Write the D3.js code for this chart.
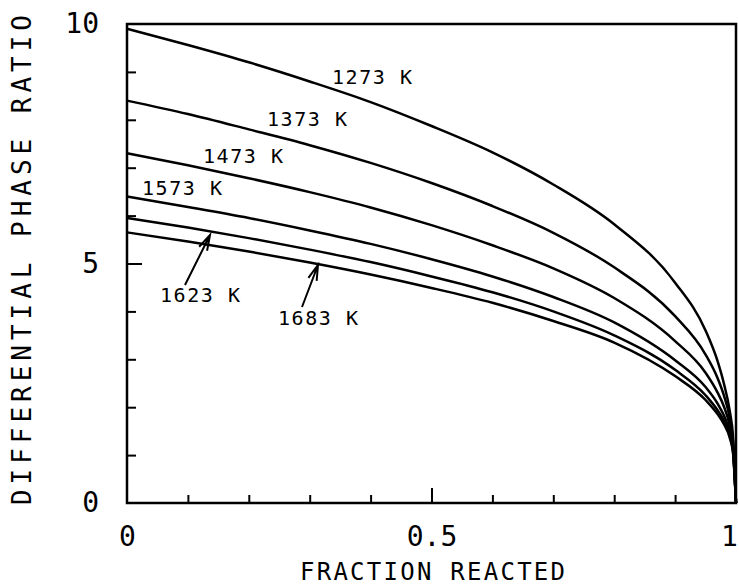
<!DOCTYPE html>
<html>
<head>
<meta charset="utf-8">
<script src="https://cdn.jsdelivr.net/npm/d3@7"></script>
<style>
  body { margin: 0; background: #fff; }
  svg text { font-family: "DejaVu Sans Mono", monospace; fill: #000; }
</style>
</head>
<body>
<div id="chart"></div>
<script>
// fraction reacted (x samples)
var fraction = [0, 0.1, 0.2, 0.3, 0.4, 0.5, 0.6, 0.7, 0.8, 0.9, 0.95, 0.97, 0.98, 0.99, 0.995, 1];
// curve for each temperature
var temps = ["1273 K", "1373 K", "1473 K", "1573 K", "1623 K", "1683 K"];
var r1273 = [9.9, 9.56, 9.2, 8.8, 8.37, 7.87, 7.32, 6.65, 5.82, 4.6, 3.6, 2.95, 2.5, 1.9, 1.4, 0];
var r1373 = [8.4, 8.12, 7.8, 7.47, 7.1, 6.68, 6.2, 5.64, 4.92, 3.9, 3.1, 2.6, 2.25, 1.75, 1.3, 0];
var r1473 = [7.3, 7.05, 6.78, 6.49, 6.17, 5.8, 5.38, 4.9, 4.28, 3.38, 2.72, 2.3, 2.02, 1.6, 1.22, 0];
var r1573 = [6.4, 6.18, 5.95, 5.69, 5.41, 5.09, 4.73, 4.3, 3.77, 2.98, 2.42, 2.07, 1.83, 1.48, 1.15, 0];
var r1623 = [5.95, 5.75, 5.53, 5.29, 5.03, 4.73, 4.4, 4.0, 3.5, 2.78, 2.25, 1.93, 1.72, 1.4, 1.1, 0];
var r1683 = [5.65, 5.46, 5.25, 5.02, 4.77, 4.49, 4.18, 3.8, 3.35, 2.65, 2.15, 1.85, 1.65, 1.35, 1.05, 0];
var series = [r1273, r1373, r1473, r1573, r1623, r1683];

var xTicks = [0, 0.1, 0.2, 0.3, 0.4, 0.5, 0.6, 0.7, 0.8, 0.9, 1];
var yTicks = [0, 1, 2, 3, 4, 5, 6, 7, 8, 9, 10];
var xLabels = [0, 0.5, 1];
var yLabels = [0, 5, 10];

var width = 739, height = 588;
var mLeft = 127, mRight = 736, mTop = 24, mBottom = 503;

var x = d3.scaleLinear().domain([0, 1]).range([mLeft, mRight]);
var y = d3.scaleLinear().domain([0, 10]).range([mBottom, mTop]);

var svg = d3.select("#chart").append("svg")
    .attr("width", width).attr("height", height);

// axes, ticks pointing inward
var gx = svg.append("g").attr("transform", "translate(0," + mBottom + ")")
    .call(d3.axisBottom(x).tickValues(xTicks).tickSizeInner(-8).tickSizeOuter(0).tickPadding(23)
        .tickFormat(function(d){ return xLabels.indexOf(d) >= 0 ? d3.format("")(d) : ""; }));
var gy = svg.append("g").attr("transform", "translate(" + mLeft + ",0)")
    .call(d3.axisLeft(y).tickValues(yTicks).tickSizeInner(-9).tickSizeOuter(0).tickPadding(28)
        .tickFormat(function(d){ return yLabels.indexOf(d) >= 0 ? d : ""; }));

[gx, gy].forEach(function(g){
  g.select(".domain").remove();
  g.selectAll(".tick line").attr("stroke", "#000").attr("stroke-width", 2);
  g.selectAll(".tick text").attr("font-size", 28).attr("font-family", "DejaVu Sans Mono");
});
gx.selectAll(".tick").filter(function(d){ return d === 0.5; }).select("line").attr("y2", -15);
gy.selectAll(".tick").filter(function(d){ return d === 5; }).select("line").attr("x2", 15);
gx.selectAll(".tick").filter(function(d){ return d === 0 || d === 1; }).select("line").remove();
gy.selectAll(".tick").filter(function(d){ return d === 0 || d === 10; }).select("line").remove();
// keep the "1" inside the picture
gx.selectAll(".tick").filter(function(d){ return d === 1; }).select("text").attr("x", -7);

// frame
svg.append("rect")
    .attr("x", mLeft).attr("y", mTop)
    .attr("width", mRight - mLeft).attr("height", mBottom - mTop)
    .attr("fill", "none").attr("stroke", "#000").attr("stroke-width", 2.5);

// curves
var line = d3.line()
    .x(function(d){ return x(d[0]); })
    .y(function(d){ return y(d[1]); })
    .curve(d3.curveMonotoneX);

svg.append("g").selectAll("path").data(series).enter().append("path")
    .attr("d", function(s){ return line(fraction.map(function(f, i){ return [f, s[i]]; })); })
    .attr("fill", "none").attr("stroke", "#000").attr("stroke-width", 2.5);

// curve labels
var labelPos = [[332, 84], [267, 126], [203, 163], [142, 195], [160, 302], [278, 325]];
svg.append("g").selectAll("text").data(temps).enter().append("text")
    .attr("x", function(d, i){ return labelPos[i][0]; })
    .attr("y", function(d, i){ return labelPos[i][1]; })
    .attr("font-size", 20)
    .attr("textLength", 80).attr("lengthAdjust", "spacing")
    .text(function(d){ return d; });

// arrows for the two lowest curves
var arrows = [[[185, 285], [210, 235]], [[302, 307], [318, 265]]];
arrows.forEach(function(a){
  var p0 = a[0], p1 = a[1];
  var ang = Math.atan2(p1[1] - p0[1], p1[0] - p0[0]);
  var len = 16, spread = 0.28;
  var d = d3.path();
  d.moveTo(p0[0], p0[1]); d.lineTo(p1[0], p1[1]);
  d.moveTo(p1[0] - len * Math.cos(ang - spread), p1[1] - len * Math.sin(ang - spread));
  d.lineTo(p1[0], p1[1]);
  d.lineTo(p1[0] - len * Math.cos(ang + spread), p1[1] - len * Math.sin(ang + spread));
  svg.append("path").attr("d", d.toString())
      .attr("fill", "none").attr("stroke", "#000").attr("stroke-width", 2);
});

// axis titles
svg.append("text")
    .attr("x", 300).attr("y", 580)
    .attr("font-size", 24)
    .attr("textLength", 265).attr("lengthAdjust", "spacing")
    .text("FRACTION REACTED");

svg.append("text")
    .attr("transform", "translate(31,505) rotate(-90)")
    .attr("font-size", 26)
    .attr("textLength", 490).attr("lengthAdjust", "spacing")
    .text("DIFFERENTIAL PHASE RATIO");
</script>
</body>
</html>
